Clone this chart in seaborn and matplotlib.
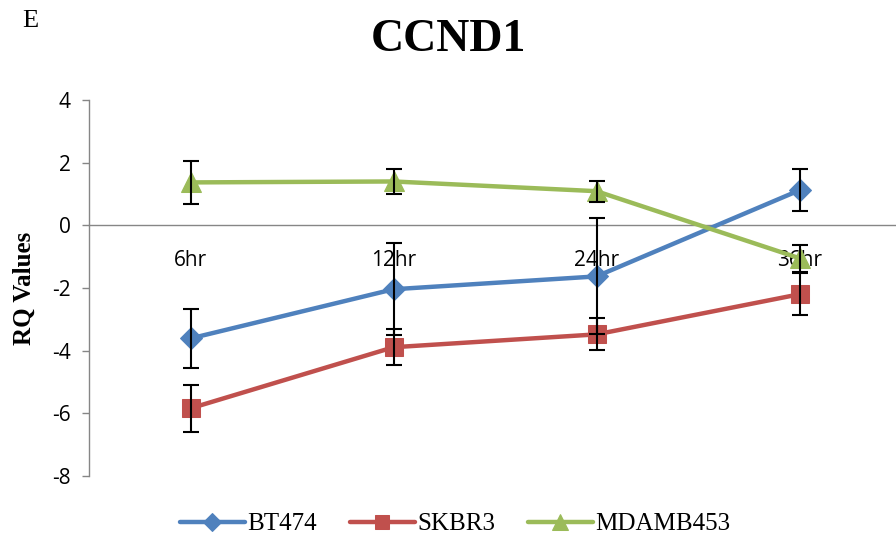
import matplotlib
matplotlib.use("Agg")
import matplotlib.pyplot as plt
import seaborn as sns
import pandas as pd
import numpy as np

categories = ["6hr", "12hr", "24hr", "36hr"]
series_names = ["BT474", "SKBR3", "MDAMB453"]
bt474 = [-3.61, -2.04, -1.63, 1.12]
bt474_err = [0.93, 1.47, 1.85, 0.67]
skbr3 = [-5.84, -3.89, -3.48, -2.20]
skbr3_err = [0.76, 0.58, 0.51, 0.67]
mdamb453 = [1.37, 1.40, 1.09, -1.05]
mdamb453_err = [0.68, 0.41, 0.33, 0.43]
yticks = [-8, -6, -4, -2, 0, 2, 4]

colors = {"BT474": "#4F81BD", "SKBR3": "#C0504D", "MDAMB453": "#9BBB59"}
markers = {"BT474": "D", "SKBR3": "s", "MDAMB453": "^"}
msizes = {"BT474": 11, "SKBR3": 13, "MDAMB453": 14}

rows = []
for name, vals, errs in [("BT474", bt474, bt474_err), ("SKBR3", skbr3, skbr3_err),
                         ("MDAMB453", mdamb453, mdamb453_err)]:
    for i, (c, v, e) in enumerate(zip(categories, vals, errs)):
        rows.append({"pos": i, "time": c, "value": v, "err": e, "series": name})
df = pd.DataFrame(rows)

sns.set_theme(style="white", rc={"text.color": "black", "axes.labelcolor": "black",
                                 "xtick.color": "black", "ytick.color": "black"})
plt.rcParams["font.family"] = ["Open Sans", "DejaVu Sans"]

fig = plt.figure(figsize=(8.96, 5.42), dpi=100)
ax = fig.add_axes([89 / 896, 1 - 476 / 542, 812 / 896, 376 / 542])

# error bars first (behind lines)
for name in series_names:
    sub = df[df.series == name]
    ax.errorbar(sub["pos"], sub["value"], yerr=sub["err"], fmt="none",
                ecolor="black", elinewidth=1.5, capsize=6, capthick=1.5, zorder=4)

for name in series_names:
    sub = df[df.series == name]
    sns.lineplot(data=sub, x="pos", y="value", ax=ax, color=colors[name],
                 marker=markers[name], markersize=msizes[name],
                 markeredgecolor=colors[name], linewidth=3.2, label=name,
                 zorder=3, estimator=None, sort=False)

ax.set_xlim(-0.5, 3.5)
ax.set_ylim(-8, 4)
ax.set_yticks(yticks)
ax.set_yticklabels([str(t) for t in yticks])
ax.set_xticks(range(len(categories)))
ax.set_xticklabels(categories)
ax.set_xticks([0.5, 1.5, 2.5], minor=True)
ax.tick_params(axis="x", which="major", length=0, pad=18, labelsize=15, labelcolor="black")
ax.tick_params(axis="x", which="minor", length=5, direction="out", color="#868686", width=1)
ax.tick_params(axis="y", which="major", length=5, direction="out", color="#868686", width=1,
               left=True, pad=8, labelsize=15, labelcolor="black")
ax.set_xlabel("")
ax.set_ylabel("RQ Values", fontsize=18, fontweight="bold", family="Liberation Serif",
              labelpad=12, color="black")

for s in ["top", "right"]:
    ax.spines[s].set_visible(False)
ax.spines["bottom"].set_position(("data", 0))
ax.spines["bottom"].set_color("#868686")
ax.spines["left"].set_color("#868686")
ax.spines["bottom"].set_linewidth(1)
ax.spines["left"].set_linewidth(1)

fig.text(0.5, 1 - 40 / 542, "CCND1", ha="center", va="center", fontsize=33,
         fontweight="bold", family="Liberation Serif", color="black")
fig.text(22 / 896, 1 - 21 / 542, "E", ha="left", va="center", fontsize=19,
         family="Liberation Serif", color="black")

leg = ax.legend(loc="center", bbox_to_anchor=(455 / 896, 1 - 524 / 542),
                bbox_transform=fig.transFigure, ncol=3, frameon=False,
                prop={"family": "Liberation Serif", "size": 18},
                handlelength=2.6, handletextpad=0.1, columnspacing=1.3,
                markerscale=0.8)

fig.savefig("out.png", dpi=100)
